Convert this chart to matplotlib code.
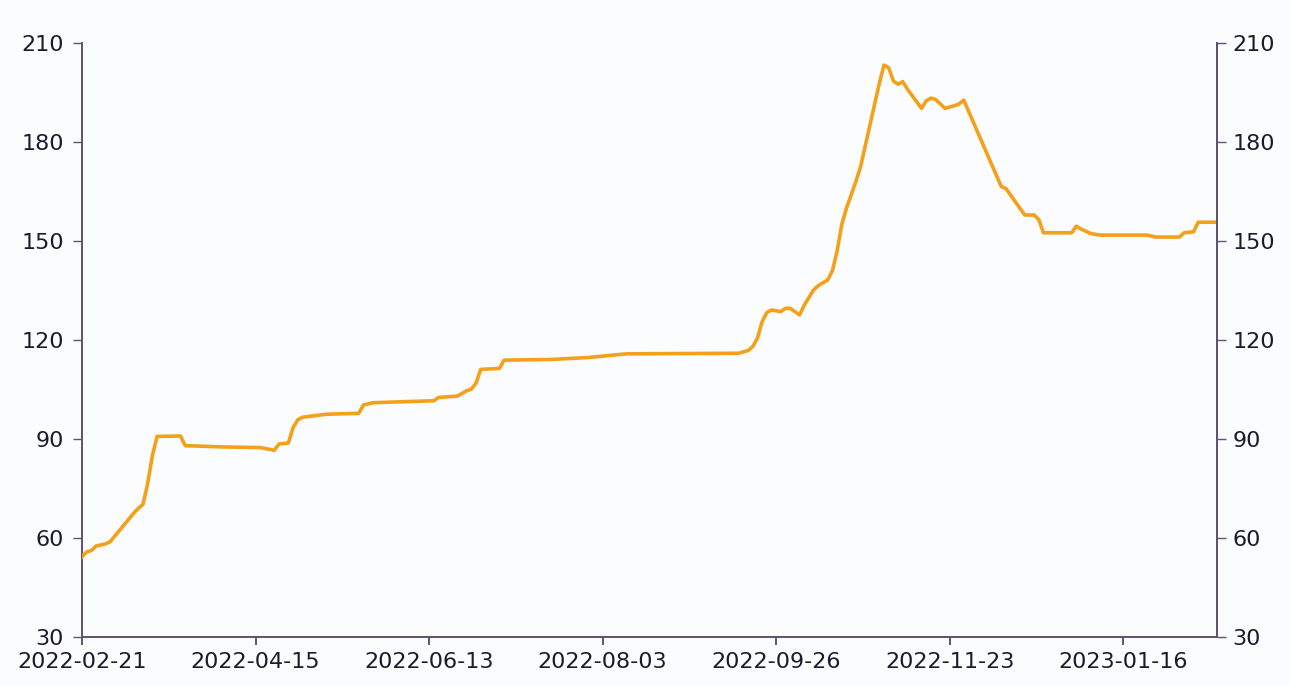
import numpy as np
import pandas as pd
import matplotlib
matplotlib.use('Agg')
import matplotlib.pyplot as plt

# exchange holidays (weekdays with no trading) inside the range
holidays = ['2022-04-04', '2022-04-05', '2022-05-02', '2022-05-03', '2022-05-04',
            '2022-06-03', '2022-09-12', '2022-10-03', '2022-10-04', '2022-10-05',
            '2022-10-06', '2022-10-07', '2023-01-02', '2023-01-23', '2023-01-24',
            '2023-01-25', '2023-01-26', '2023-01-27']
start_date = '2022-02-21'
end_date = '2023-02-20'

# breakpoints of the series
dates = ['2022-02-21', '2022-02-22', '2022-02-23', '2022-02-24', '2022-02-28', '2022-03-01',
         '2022-03-08', '2022-03-09', '2022-03-10', '2022-03-11', '2022-03-14', '2022-03-15',
         '2022-03-22', '2022-03-23', '2022-04-06', '2022-04-18', '2022-04-21', '2022-04-22',
         '2022-04-26', '2022-04-27', '2022-04-28', '2022-04-29', '2022-05-11', '2022-05-20',
         '2022-05-23', '2022-05-25', '2022-06-14', '2022-06-15', '2022-06-21', '2022-06-23',
         '2022-06-24', '2022-06-27', '2022-06-28', '2022-07-04', '2022-07-05', '2022-07-19',
         '2022-07-29', '2022-08-05', '2022-08-10', '2022-09-14', '2022-09-16', '2022-09-19',
         '2022-09-20', '2022-09-21', '2022-09-22', '2022-09-23', '2022-09-27', '2022-09-28',
         '2022-09-29', '2022-10-10', '2022-10-11', '2022-10-13', '2022-10-14', '2022-10-18',
         '2022-10-19', '2022-10-20', '2022-10-21', '2022-10-24', '2022-10-26', '2022-10-27',
         '2022-11-02', '2022-11-03', '2022-11-04', '2022-11-07', '2022-11-08', '2022-11-09',
         '2022-11-10', '2022-11-15', '2022-11-16', '2022-11-17', '2022-11-18', '2022-11-22',
         '2022-11-24', '2022-11-25', '2022-11-28', '2022-12-08', '2022-12-09', '2022-12-15',
         '2022-12-19', '2022-12-20', '2022-12-21', '2022-12-29', '2022-12-30', '2023-01-03',
         '2023-01-04', '2023-01-05', '2023-01-09', '2023-01-30', '2023-02-01', '2023-02-08',
         '2023-02-09', '2023-02-13', '2023-02-14', '2023-02-20']
values = [54.3, 55.8, 56.2, 57.6, 58.2, 58.9,
          67.5, 69.0, 70.2, 76.6, 85.0, 90.8,
          90.9, 88.0, 87.6, 87.4, 86.6, 88.5,
          88.8, 93.5, 95.8, 96.6, 97.5, 97.8,
          100.3, 101.0, 101.6, 102.6, 103.0, 104.6,
          105.1, 106.9, 111.1, 111.4, 113.9, 114.1,
          114.7, 115.4, 115.8, 116.0, 116.8, 118.0,
          120.5, 125.5, 128.3, 129.1, 128.6, 129.6,
          129.6, 127.6, 130.6, 135.2, 136.5, 138.2,
          141.0, 147.0, 155.0, 160.0, 168.0, 172.5,
          197.8, 203.3, 202.5, 198.5, 197.5, 198.3,
          196.0, 190.2, 192.5, 193.3, 192.9, 190.2,
          191.0, 191.5, 192.7, 166.5, 165.9, 157.9,
          157.9, 156.5, 152.5, 152.5, 154.5, 153.6,
          153.0, 152.3, 151.8, 151.8, 151.2, 151.2,
          152.5, 152.8, 155.7, 155.7]

y_ticks = [30, 60, 90, 120, 150, 180, 210]
tick_step = 37  # trading days between x labels

# trading-day calendar -> x positions
days = pd.bdate_range(start_date, end_date)
days = days[~days.isin(pd.to_datetime(holidays))]
pos = {d: i for i, d in enumerate(days)}
x = [pos[pd.Timestamp(d)] for d in dates]

bg = '#fbfcfd'
spine_col = '#5c5470'
text_col = '#1c1a2e'

fig = plt.figure(figsize=(12.9, 6.86), dpi=100, facecolor=bg)
ax = fig.add_axes([0.0636, 0.0714, 0.8798, 0.8659], facecolor=bg)

ax.plot(x, values, color='#f3a01b', lw=2.6, solid_joinstyle='round', zorder=3)

ax.set_xlim(0, len(days) - 1)
ax.set_ylim(30, 210)
ax.set_yticks(y_ticks)

xt = list(range(0, len(days), tick_step))
ax.set_xticks(xt)
ax.set_xticklabels([days[i].strftime('%Y-%m-%d') for i in xt])

ax.spines['top'].set_visible(False)
for s in ['left', 'right', 'bottom']:
    ax.spines[s].set_color(spine_col)
    ax.spines[s].set_linewidth(1.4)

ax.tick_params(axis='y', direction='out', length=6.5, width=1.0, color=spine_col,
               labelsize=16, labelcolor=text_col, pad=6.5)
ax.tick_params(axis='x', direction='out', length=6, width=1.4, color=spine_col,
               labelsize=16, labelcolor=text_col, pad=5)

ax2 = ax.twinx()
ax2.set_ylim(30, 210)
ax2.set_yticks(y_ticks)
ax2.spines['top'].set_visible(False)
ax2.spines['right'].set_color(spine_col)
ax2.spines['right'].set_linewidth(1.4)
ax2.spines['left'].set_visible(False)
ax2.spines['bottom'].set_visible(False)
ax2.tick_params(axis='y', direction='out', length=6.5, width=1.0, color=spine_col,
                labelsize=16, labelcolor=text_col, pad=4.5)

fig.savefig('out.png', dpi=100, facecolor=bg)
